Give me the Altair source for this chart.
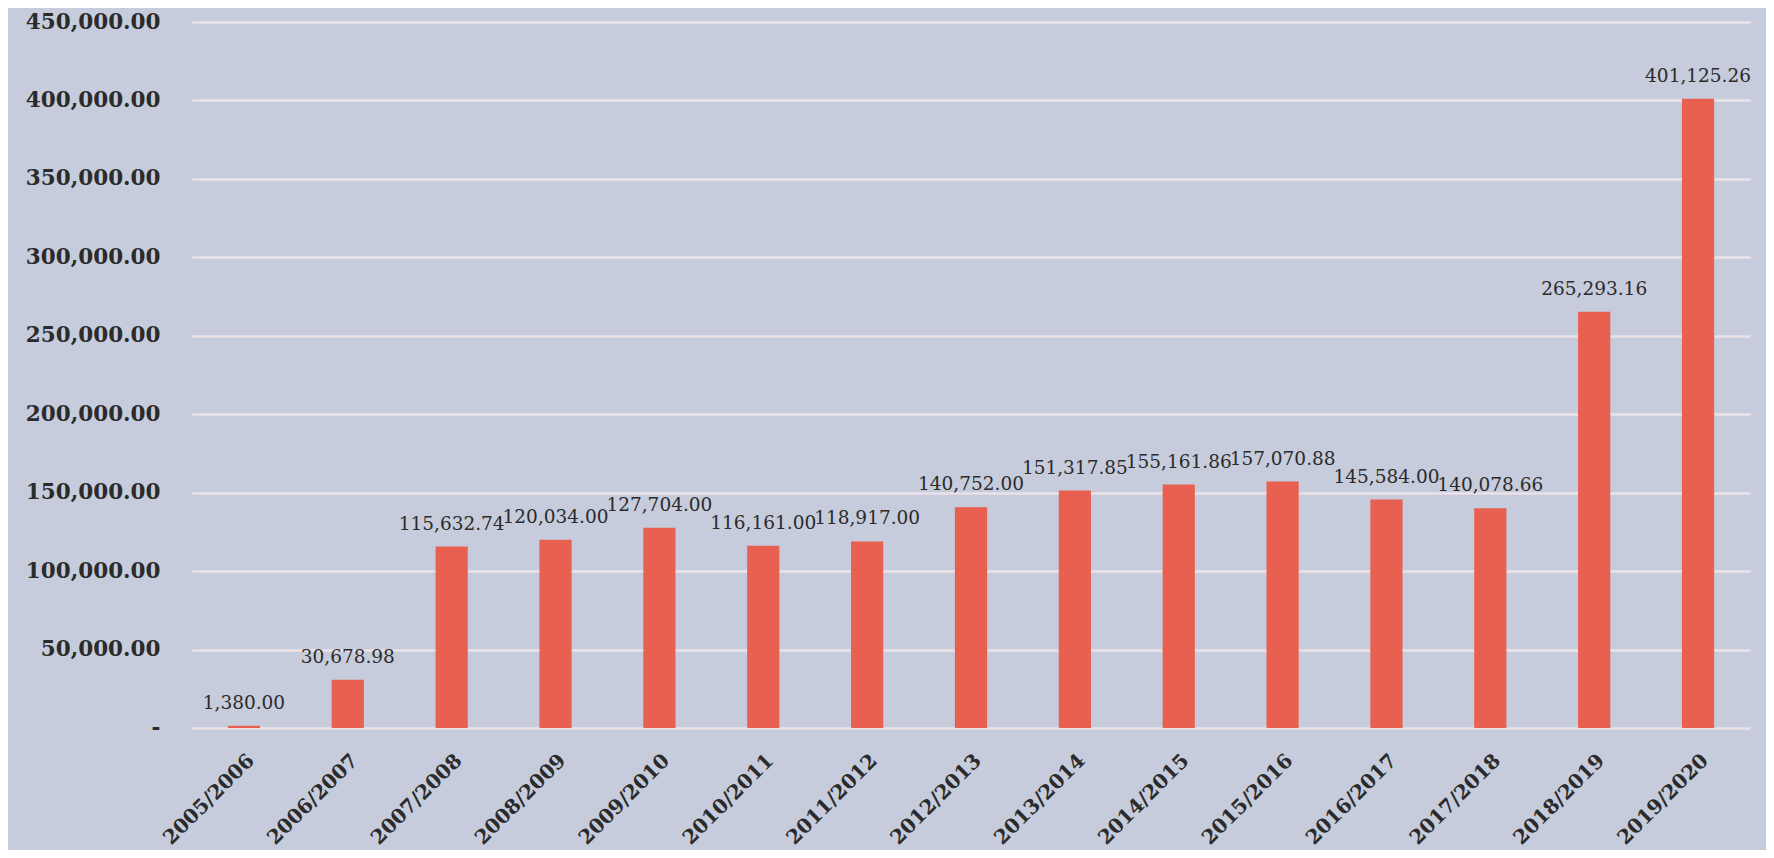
import altair as alt
import pandas as pd

years = ["2005/2006", "2006/2007", "2007/2008", "2008/2009", "2009/2010",
         "2010/2011", "2011/2012", "2012/2013", "2013/2014", "2014/2015",
         "2015/2016", "2016/2017", "2017/2018", "2018/2019", "2019/2020"]
values = [1380.00, 30678.98, 115632.74, 120034.00, 127704.00,
          116161.00, 118917.00, 140752.00, 151317.85, 155161.86,
          157070.88, 145584.00, 140078.66, 265293.16, 401125.26]
y_ticks = [0, 50000, 100000, 150000, 200000, 250000, 300000, 350000, 400000, 450000]

df = pd.DataFrame({"year": years, "value": values})

FONT = "DejaVu Serif"
BG = "#c6ccdc"
BAR = "#e8604f"
TXT = "#2b2b2b"

x = alt.X("year:N", sort=years, title=None,
          scale=alt.Scale(paddingInner=0.69, paddingOuter=0.345),
          axis=alt.Axis(labelAngle=-45, labelFont=FONT, labelFontSize=20,
                        labelFontWeight="bold", labelColor=TXT, ticks=False,
                        domain=False, labelPadding=22, grid=False))
y = alt.Y("value:Q", title=None,
          scale=alt.Scale(domain=[0, 450000], nice=False),
          axis=alt.Axis(values=y_ticks, labelFont=FONT, labelFontSize=21.5,
                        labelFontWeight="bold", labelColor=TXT, ticks=False,
                        domain=False, labelPadding=32, grid=True,
                        gridColor="#ebe3e7", gridWidth=2.5,
                        labelExpr="datum.value == 0 ? '-\u00a0\u00a0\u00a0' : format(datum.value, ',.2f')"))

bars = alt.Chart(df).mark_bar(color=BAR).encode(x=x, y=y)
labels = alt.Chart(df).mark_text(font=FONT, fontSize=18.5, color=TXT, dy=-17,
                                 baseline="alphabetic", align="center").encode(
    x=alt.X("year:N", sort=years),
    y=alt.Y("value:Q"),
    text=alt.Text("value:Q", format=",.2f"))

chart = (bars + labels).properties(
    width=1558, height=706,
    background=BG,
    autosize=alt.AutoSizeParams(type="none"),
    padding={"left": 184, "top": 14, "right": 16, "bottom": 122},
).configure_view(stroke=None)

chart.save("out.html", embed_options={"renderer": "svg", "actions": False})
